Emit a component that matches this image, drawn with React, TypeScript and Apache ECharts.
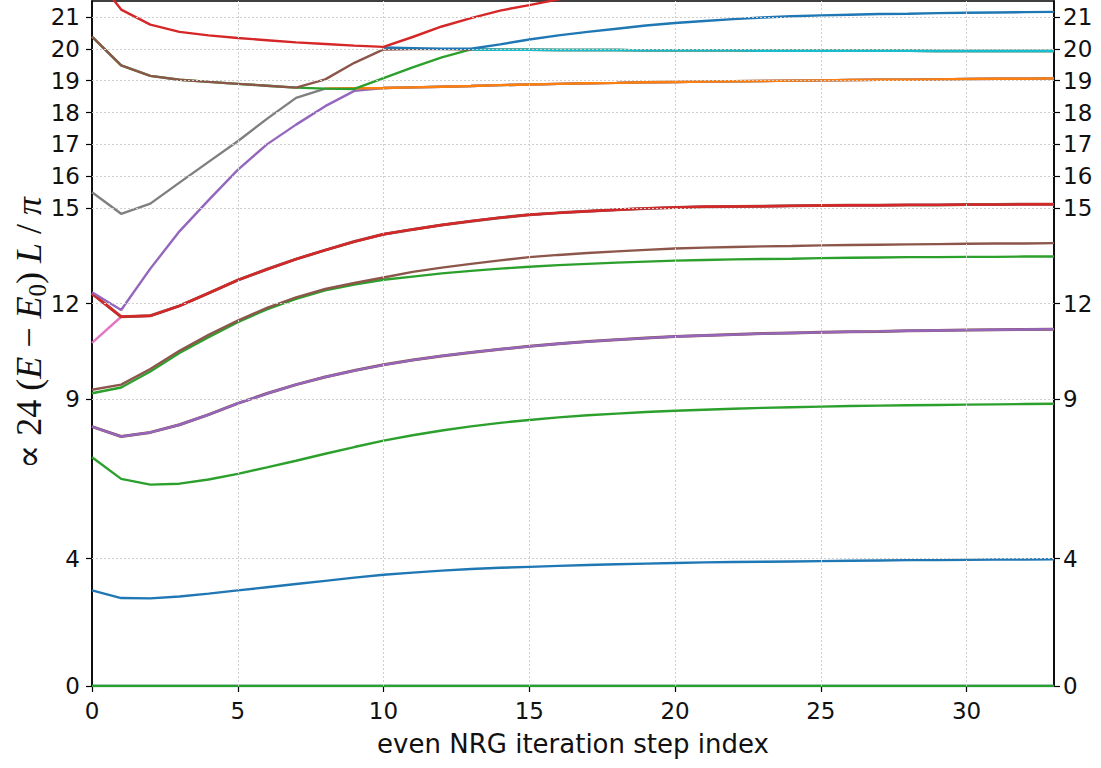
import React, { useEffect, useRef } from "react";
import * as echarts from "echarts";

const steps = [0,1,2,3,4,5,6,7,8,9,10,11,12,13,14,15,16,17,18,19,20,21,22,23,24,25,26,27,28,29,30,31,32,33];
const yTicks = [0, 4, 9, 12, 15, 16, 17, 18, 19, 20, 21];
const xTicks = [0, 5, 10, 15, 20, 25, 30];

const zeroLevel = [0,0,0,0,0,0,0,0,0,0,0,0,0,0,0,0,0,0,0,0,0,0,0,0,0,0,0,0,0,0,0,0,0,0];
const blueGround = [3.0,2.76,2.75,2.81,2.9,3.0,3.1,3.2,3.3,3.4,3.49,3.56,3.62,3.67,3.71,3.74,3.77,3.8,3.82,3.84,3.86,3.88,3.89,3.9,3.91,3.92,3.93,3.94,3.95,3.95,3.96,3.97,3.97,3.98];
const greenLow = [7.18,6.5,6.32,6.35,6.48,6.66,6.86,7.07,7.29,7.5,7.7,7.87,8.02,8.15,8.26,8.35,8.43,8.5,8.55,8.6,8.64,8.67,8.7,8.73,8.75,8.77,8.79,8.8,8.81,8.82,8.83,8.84,8.85,8.86];
const purpleLow = [8.14,7.83,7.96,8.2,8.52,8.87,9.18,9.46,9.7,9.9,10.08,10.23,10.36,10.47,10.57,10.66,10.74,10.81,10.87,10.92,10.97,11.0,11.03,11.06,11.08,11.1,11.12,11.13,11.15,11.16,11.17,11.18,11.19,11.2];
const greenMid = [9.19,9.37,9.87,10.45,10.95,11.42,11.82,12.15,12.42,12.6,12.75,12.85,12.95,13.03,13.1,13.16,13.21,13.25,13.29,13.32,13.35,13.37,13.39,13.4,13.41,13.43,13.44,13.45,13.46,13.46,13.47,13.47,13.48,13.48];
const brownMid = [9.3,9.46,9.95,10.52,11.02,11.47,11.87,12.2,12.46,12.65,12.82,13.0,13.13,13.25,13.36,13.46,13.53,13.59,13.64,13.69,13.73,13.76,13.78,13.8,13.81,13.83,13.84,13.85,13.86,13.87,13.88,13.89,13.89,13.9];
const redLow = [12.32,11.59,11.62,11.93,12.33,12.74,13.08,13.4,13.68,13.95,14.18,14.33,14.47,14.59,14.7,14.79,14.85,14.9,14.95,14.99,15.02,15.04,15.05,15.06,15.07,15.08,15.09,15.09,15.1,15.1,15.11,15.11,15.12,15.12];
const pinkStart = [10.77];
const purpleUpHead = [12.36,11.8,13.1,14.27,15.25,16.2,17.0,17.62,18.2,18.68,18.77];
const grayUpHead = [15.5,14.82,15.14,15.8,16.45,17.1,17.8,18.46];
const orangeLevel = [null,null,null,null,null,null,null,null,18.75,18.76,18.77,18.79,18.81,18.83,18.86,18.88,18.9,18.92,18.93,18.95,18.96,18.97,18.98,18.99,19.0,19.01,19.02,19.03,19.03,19.04,19.05,19.06,19.06,19.07];
const level20 = [null,null,null,null,null,null,null,null,null,null,20.0,19.99,19.99,19.98,19.97,19.97,19.96,19.96,19.96,19.95,19.95,19.95,19.95,19.94,19.94,19.94,19.94,19.94,19.94,19.93,19.93,19.93,19.93,19.93];
const brownTopHead = [20.38,19.48,19.15,19.03,18.96,18.9,18.84,18.78,19.04,19.56,19.98];
const greenUpMid = [18.75,18.74,19.08,19.42,19.73,19.98];
const redTop = [22.4,21.23,20.76,20.53,20.42,20.34,20.27,20.2,20.15,20.1,20.06,20.37,20.7,20.96,21.2,21.37,21.55,21.7];
const blueTop = [null,null,null,null,null,null,null,null,null,null,20.04,20.02,20.0,20.0,20.14,20.29,20.42,20.53,20.63,20.73,20.81,20.87,20.93,20.98,21.02,21.05,21.07,21.09,21.1,21.12,21.13,21.14,21.15,21.16];

const C = {
  blue: "#1f77b4", orange: "#ff7f0e", green: "#2ca02c", red: "#d62728",
  purple: "#9467bd", brown: "#8c564b", pink: "#e377c2", gray: "#7f7f7f", cyan: "#17becf",
};

const pink = [...pinkStart, ...redLow.slice(1)];
const purpleUp = [...purpleUpHead, ...orangeLevel.slice(purpleUpHead.length)];
const grayUp = [...grayUpHead, ...orangeLevel.slice(grayUpHead.length)];
const brownTop = [...brownTopHead, ...level20.slice(brownTopHead.length)];
const greenUp = [...brownTopHead.slice(0, 8), ...greenUpMid, ...level20.slice(14)];
const cyanLevel = level20.map((v, i) => (i >= 13 ? v : null));

const FONT = "'DejaVu Sans', sans-serif";
const SERIF = "'Liberation Serif', 'DejaVu Serif', serif";
const GRID_LINE = { color: "#cfcfcf", width: 1, type: [2, 2] as number[] };

export default function App() {
  const ref = useRef<HTMLDivElement>(null);
  useEffect(() => {
    const chart = echarts.init(ref.current!, null, { renderer: "svg" });
    const mk = (vals: (number | null)[], color: string, w = 2.4, extra: any = {}) => ({
      type: "line",
      data: steps.slice(0, vals.length).map((s, i) => [s, vals[i]]),
      showSymbol: false,
      symbol: "none",
      connectNulls: false,
      lineStyle: { color, width: w },
      itemStyle: { color },
      silent: true,
      clip: true,
      ...extra,
    });
    const gridMarks = {
      markLine: {
        silent: true,
        symbol: ["none", "none"],
        label: { show: false },
        lineStyle: GRID_LINE,
        emphasis: { disabled: true },
        data: [
          ...yTicks.filter((v) => v > 0).map((v) => ({ yAxis: v })),
          ...xTicks.filter((v) => v > 0).map((v) => ({ xAxis: v })),
        ],
      },
    };
    const series = [
      mk(zeroLevel, C.blue, 2.4, gridMarks),
      mk(zeroLevel, C.green),
      mk(blueGround, C.blue),
      mk(greenLow, C.green),
      mk(purpleLow, C.brown, 3),
      mk(purpleLow, C.purple),
      mk(greenMid, C.green),
      mk(brownMid, C.brown),
      mk(pink, C.pink),
      mk(redLow, C.brown, 3),
      mk(redLow, C.red),
      mk(purpleUp, C.purple),
      mk(grayUp, C.gray),
      mk(orangeLevel, C.orange),
      mk(greenUp, C.green),
      mk(brownTop, C.brown),
      mk(cyanLevel, C.cyan),
      mk(blueTop, C.blue),
      mk(redTop, C.red),
    ];
    const yAxisBase = {
      type: "value",
      min: 0,
      max: 21.5,
      axisLine: { show: true, lineStyle: { color: "#000", width: 1.5 } },
      axisTick: { show: true, inside: false, length: 6, customValues: yTicks, lineStyle: { color: "#000", width: 1.2 } },
      axisLabel: { customValues: yTicks, color: "#111", fontFamily: FONT, fontSize: 23, showMinLabel: true, showMaxLabel: true },
      splitLine: { show: false },
    };
    chart.setOption({
      animation: false,
      backgroundColor: "#fff",
      grid: {
        left: 92, right: 47, top: 1, bottom: 82,
        show: true, borderColor: "#000", borderWidth: 1.5,
        containLabel: false, outerBoundsMode: "none",
      },
      xAxis: {
        type: "value",
        min: 0,
        max: 33,
        interval: 5,
        name: "even NRG iteration step index",
        nameLocation: "middle",
        nameGap: 45,
        nameTextStyle: { color: "#111", fontFamily: FONT, fontSize: 26 },
        axisLine: { show: true, onZero: false, lineStyle: { color: "#000", width: 1.5 } },
        axisTick: { show: true, length: 6, customValues: xTicks, lineStyle: { color: "#000", width: 1.2 } },
        axisLabel: { customValues: xTicks, color: "#111", fontFamily: FONT, fontSize: 23, margin: 13 },
        splitLine: { show: false },
      },
      yAxis: [
        { ...yAxisBase, position: "left", axisLabel: { ...yAxisBase.axisLabel, margin: 12 } },
        { ...yAxisBase, position: "right", axisLabel: { ...yAxisBase.axisLabel, margin: 9 } },
      ],
      graphic: [
        {
          type: "text",
          x: 29,
          y: 333,
          rotation: Math.PI / 2,
          style: {
            text: "{a|∝ 24 (}{i|E}{a| − }{i|E}{s|0}{a|) }{i|L}{a| / }{i|π}",
            align: "center",
            verticalAlign: "middle",
            fill: "#111",
            rich: {
              a: { fontFamily: SERIF, fontSize: 36, fill: "#111" },
              i: { fontFamily: SERIF, fontStyle: "italic", fontSize: 36, fill: "#111" },
              s: { fontFamily: SERIF, fontSize: 25, fill: "#111", padding: [17, 0, 0, 0] },
            },
          },
        },
      ],
      series,
    });
    return () => chart.dispose();
  }, []);
  return (
    <div
      ref={ref}
      style={{ position: "absolute", left: 0, top: 0, width: 1101, height: 768, background: "#fff" }}
    />
  );
}
